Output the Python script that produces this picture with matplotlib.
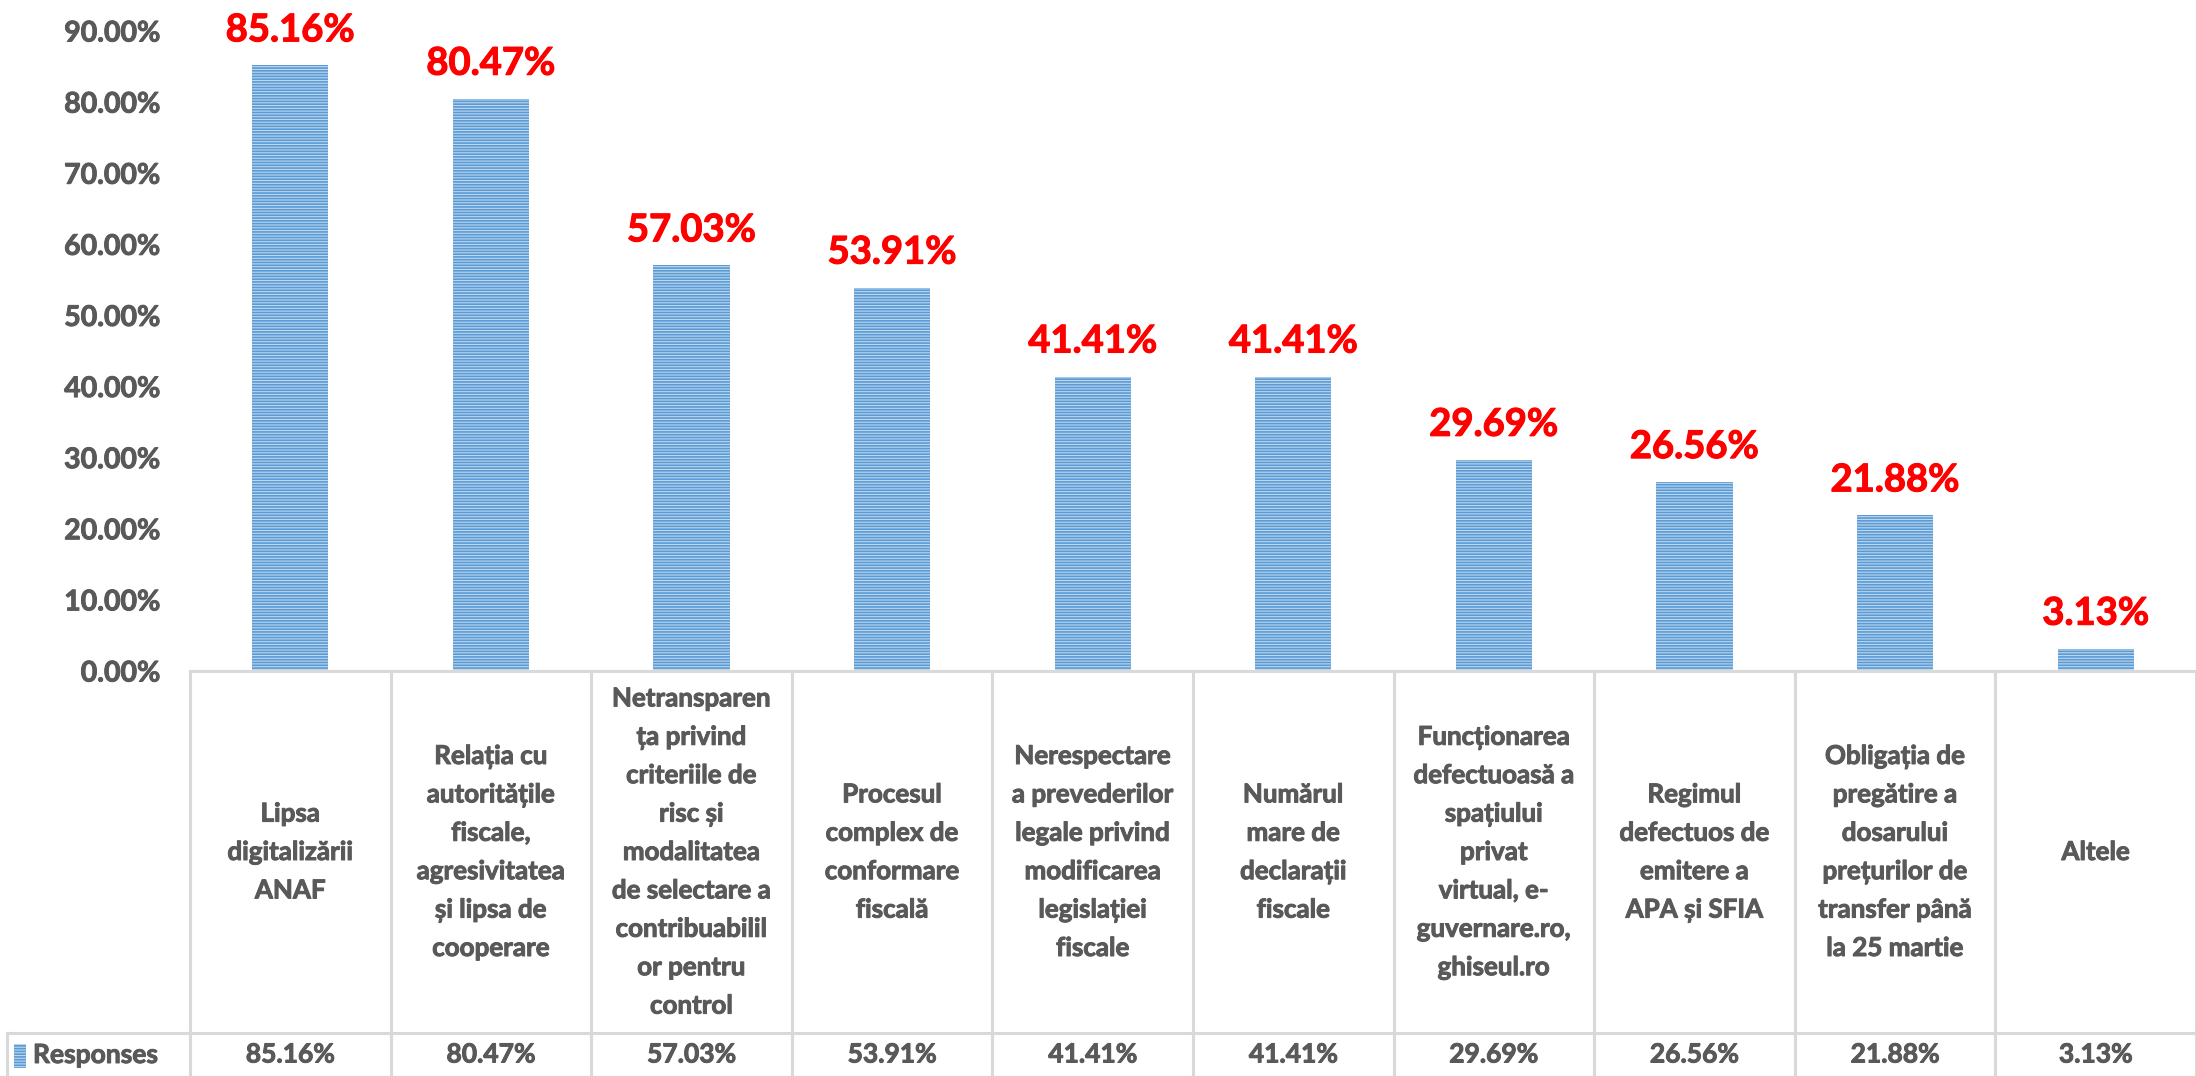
import matplotlib
matplotlib.use("Agg")
import matplotlib.pyplot as plt
import matplotlib.patheffects as pe
from matplotlib.patches import Rectangle
from matplotlib.ticker import FuncFormatter

plt.rcParams['font.family'] = ['Lato', 'DejaVu Sans']
plt.rcParams['hatch.linewidth'] = 1.2

# date
categorii = [
    "Lipsa\ndigitalizării\nANAF",
    "Relația cu\nautoritățile\nfiscale,\nagresivitatea\nși lipsa de\ncooperare",
    "Netransparen\nța privind\ncriteriile de\nrisc și\nmodalitatea\nde selectare a\ncontribuabilil\nor pentru\ncontrol",
    "Procesul\ncomplex de\nconformare\nfiscală",
    "Nerespectare\na prevederilor\nlegale privind\nmodificarea\nlegislației\nfiscale",
    "Numărul\nmare de\ndeclarații\nfiscale",
    "Funcționarea\ndefectuoasă a\nspațiului\nprivat\nvirtual, e-\nguvernare.ro,\nghiseul.ro",
    "Regimul\ndefectuos de\nemitere a\nAPA și SFIA",
    "Obligația de\npregătire a\ndosarului\nprețurilor de\ntransfer până\nla 25 martie",
    "Altele",
]
valori = [85.16, 80.47, 57.03, 53.91, 41.41, 41.41, 29.69, 26.56, 21.88, 3.13]
serie = "Responses"
y_ticks = [0, 10, 20, 30, 40, 50, 60, 70, 80, 90]

W, H = 2196, 1076
gri = "#595959"
linie = "#D9D9D9"
fata = "#BDD7EE"
dungi = "#5B9BD5"

def gros(c, w=0.7):
    # ingroasa putin textul (Calibri bold e mai apasat decat Lato)
    return [pe.withStroke(linewidth=w, foreground=c)]

fig = plt.figure(figsize=(W / 100, H / 100), dpi=100)
x0, y0, y90 = 190, 671, 31
ax = fig.add_axes([x0 / W, 1 - y0 / H, (W - x0) / W, (y0 - y90) / H])

x = list(range(len(valori)))
bare = ax.bar(x, valori, width=0.38, color=fata, edgecolor=dungi, hatch="------", linewidth=0)

for xi, v in zip(x, valori):
    ax.annotate("%.2f%%" % v, (xi, v), xytext=(0, 13), textcoords="offset points",
                ha="center", va="bottom", color="red", fontsize=27.5, fontweight="bold",
                path_effects=gros("red", 0.8))

ax.set_xlim(-0.5, len(valori) - 0.5)
ax.set_ylim(0, 90)
ax.set_yticks(y_ticks)
ax.yaxis.set_major_formatter(FuncFormatter(lambda v, p: "%.2f%%" % v))
ax.tick_params(axis="y", length=0, pad=21, labelsize=20.5, labelcolor=gri)
for lab in ax.get_yticklabels():
    lab.set_fontweight("bold")
    lab.set_path_effects(gros(gri))
ax.set_xticks([])
for s in ["top", "right", "left", "bottom"]:
    ax.spines[s].set_visible(False)

# tabel de date sub grafic
tr = ax.get_xaxis_transform()
h_ax = y0 - y90
y_rand = -(1033 - y0) / h_ax
y_jos = -(H - y0) / h_ax
x_st = -0.5 - 183 / 200.6
ax.plot([-0.5, len(valori) - 0.5], [0, 0], transform=tr, color=linie, lw=2.2, clip_on=False)
ax.plot([x_st, len(valori) - 0.5], [y_rand, y_rand], transform=tr, color=linie, lw=2.2, clip_on=False)
for i in range(len(valori) + 1):
    ax.plot([i - 0.5, i - 0.5], [0, y_jos], transform=tr, color=linie, lw=2.2, clip_on=False)
ax.plot([x_st, x_st], [y_rand, y_jos], transform=tr, color=linie, lw=2.2, clip_on=False)

for xi, c, v in zip(x, categorii, valori):
    ax.text(xi, y_rand / 2, c, transform=tr, ha="center", va="center", color=gri,
            fontsize=18.7, fontweight="bold", linespacing=1.72, clip_on=False,
            path_effects=gros(gri))
    ax.text(xi, (y_rand + y_jos) / 2, "%.2f%%" % v, transform=tr, ha="center", va="center",
            color=gri, fontsize=19, fontweight="bold", clip_on=False, path_effects=gros(gri))

fig.add_artist(Rectangle((14 / W, 1 - 1068 / H), 12 / W, 24 / H, transform=fig.transFigure,
                         facecolor=fata, edgecolor=dungi, hatch="------", linewidth=0))
fig.text(33 / W, 1 - 1055 / H, serie, ha="left", va="center", color=gri,
         fontsize=19, fontweight="bold", path_effects=gros(gri))

fig.savefig("out.png", dpi=100)
